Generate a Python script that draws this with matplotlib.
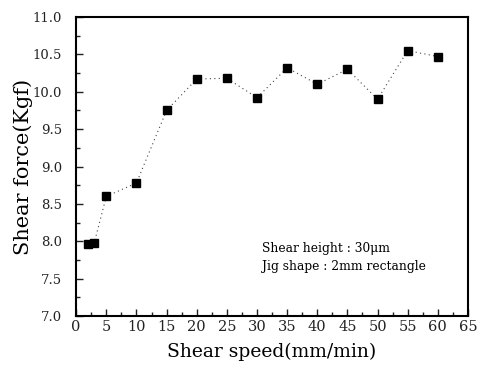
import matplotlib
matplotlib.use("Agg")
import matplotlib.pyplot as plt
from matplotlib.ticker import MultipleLocator

speed = [2, 3, 5, 10, 15, 20, 25, 30, 35, 40, 45, 50, 55, 60]
force = [7.97, 7.98, 8.60, 8.78, 9.75, 10.17, 10.18, 9.92, 10.32, 10.10, 10.30, 9.90, 10.55, 10.47]
xticks = list(range(0, 70, 5))
yticks = [7.0, 7.5, 8.0, 8.5, 9.0, 9.5, 10.0, 10.5, 11.0]

plt.rcParams['font.family'] = ['DejaVu Serif']

fig = plt.figure(figsize=(4.79, 3.68), dpi=100)
ax = fig.add_axes([0.159, 0.141, 0.818, 0.813])
ax.plot(speed, force, linestyle=(0, (1, 3)), color='#444444', linewidth=0.8)
ax.plot(speed, force, linestyle='none', marker='s', markersize=6, color='black')

ax.set_xlim(0, 65)
ax.set_ylim(7.0, 11.0)
ax.set_xticks(xticks)
ax.set_yticks(yticks)
ax.set_yticklabels([f"{v:.1f}" for v in yticks])
ax.xaxis.set_minor_locator(MultipleLocator(2.5))
ax.yaxis.set_minor_locator(MultipleLocator(0.25))
ax.tick_params(which='both', direction='in', colors='#222222')
ax.tick_params(axis='x', which='major', labelsize=10.5, length=5, width=1, pad=3)
ax.tick_params(axis='y', which='major', labelsize=9.5, length=5, width=1, pad=10)
ax.tick_params(which='minor', length=3, width=1)
for s in ax.spines.values():
    s.set_linewidth(1.5)

ax.set_xlabel('Shear speed(mm/min)', fontsize=13.5, labelpad=6)
ax.set_ylabel('Shear force(Kgf)', fontsize=15, labelpad=0)

ax.text(30.8, 7.9, 'Shear height : 30\u03bcm', fontsize=8.8, va='center')
ax.text(30.8, 7.66, 'Jig shape : 2mm rectangle', fontsize=8.8, va='center')

fig.savefig('out.png', dpi=100)
